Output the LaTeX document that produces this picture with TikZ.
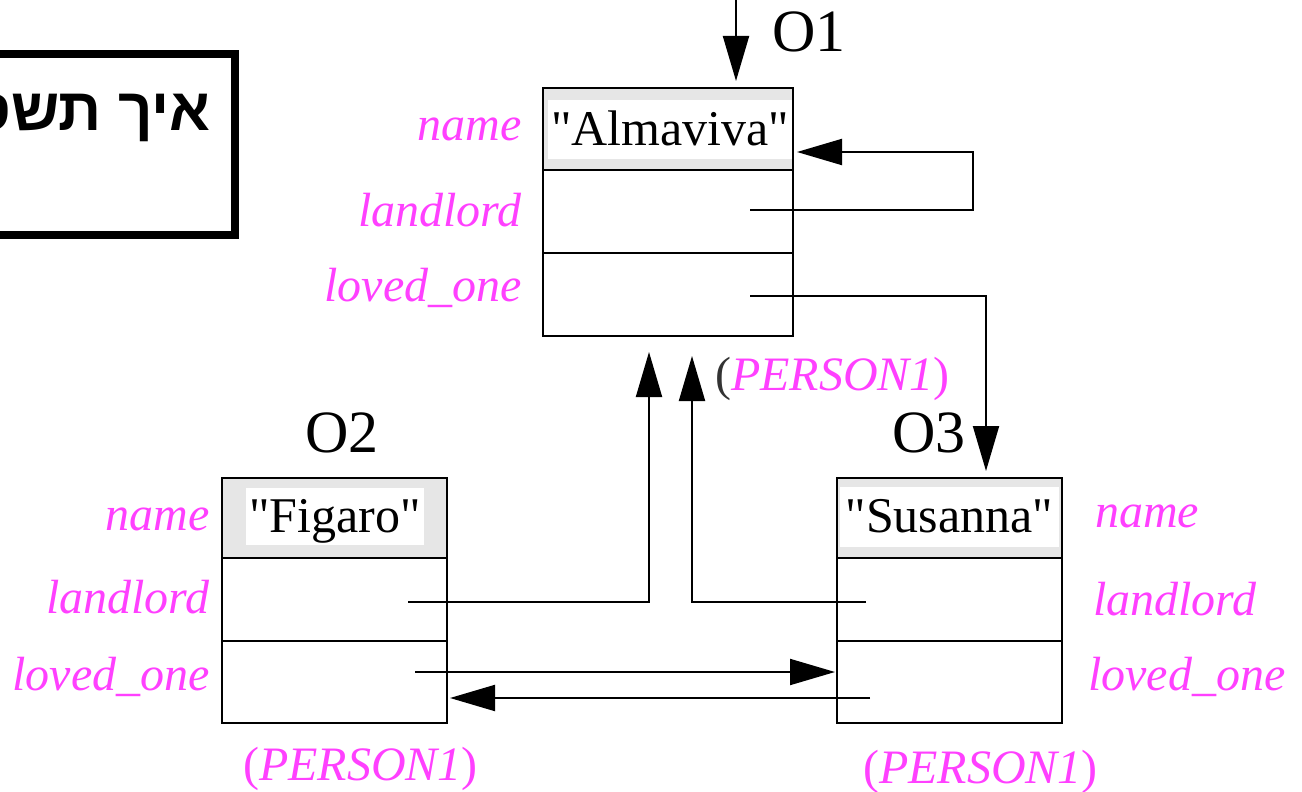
\documentclass[tikz,border=0pt]{standalone}
\usepackage{fontspec}
\setmainfont{Liberation Serif}[Ligatures=TeXOff]
\newfontfamily\hebfont[Script=Hebrew]{Liberation Sans}
\TeXXeTstate=1
\usetikzlibrary{arrows.meta}
\definecolor{lblc}{RGB}{255,64,255}
\definecolor{rowgray}{RGB}{230,230,230}
\begin{document}
\begin{tikzpicture}[x=1pt,y=-1pt,
  rowbox/.style={draw=black, line width=2pt, inner sep=0, outer sep=0},
  lbl/.style={text=lblc, font=\fontsize{48}{54}\selectfont\itshape, inner sep=0},
  val/.style={font=\fontsize{50}{58}\selectfont, inner sep=0},
  oname/.style={font=\fontsize{60}{70}\selectfont, inner sep=0},
  ptr/.style={line width=2pt, -{Triangle[length=45pt,width=26pt]}}]
\useasboundingbox (0,0) rectangle (1302,792);

% Hebrew title box (cut at left, as in the reference)
\draw[line width=8pt] (-30,54) -- (235,54) -- (235,235) -- (-30,235);
\node[anchor=base east, inner sep=0, font=\fontsize{60}{68}\hebfont\bfseries] (heb) at (211,131) {\beginR איך תשס\endR};

% ---------- O1 ----------
\node[rowbox, fill=rowgray, minimum width=250pt, minimum height=82pt] (o1name) at (668,129) {};
\fill[white] (548,100) rectangle (793,159);
\node[rowbox, minimum width=250pt, minimum height=83pt] (o1land) at (668,211.5) {};
\node[rowbox, minimum width=250pt, minimum height=83pt] (o1love) at (668,294.5) {};
\draw[line width=2pt] (543,88) rectangle (793,336);
\node[val, anchor=base] (o1val) at (670,145) {"Almaviva"};
\node[oname, anchor=base west] (o1lab) at (772,52) {O1};
\node[lbl, anchor=base east] (o1n) at (522,140) {name};
\node[lbl, anchor=base east] (o1l) at (522,226) {landlord};
\node[lbl, anchor=base east] (o1o) at (522,301) {loved\_one};
\node[lbl, anchor=base west] (o1p) at (715,390) {\textcolor{black!80}{\upshape(}PERSON1\upshape)};

% ---------- O2 ----------
\node[rowbox, fill=rowgray, minimum width=225pt, minimum height=80pt] (o2name) at (334.5,518) {};
\fill[white] (246,488) rectangle (424,545);
\node[rowbox, minimum width=225pt, minimum height=83pt] (o2land) at (334.5,599.5) {};
\node[rowbox, minimum width=225pt, minimum height=82pt] (o2love) at (334.5,682) {};
\draw[line width=2pt] (222,478) rectangle (447,723);
\node[val, anchor=base] (o2val) at (335,532) {"Figaro"};
\node[oname, anchor=base west] (o2lab) at (305,452) {O2};
\node[lbl, anchor=base east] (o2n) at (210,530) {name};
\node[lbl, anchor=base east] (o2l) at (210,613) {landlord};
\node[lbl, anchor=base east] (o2o) at (210,690) {loved\_one};
\node[lbl, anchor=base west] (o2p) at (243,780) {\upshape(\itshape PERSON1\upshape)};

% ---------- O3 ----------
\node[rowbox, fill=rowgray, minimum width=225pt, minimum height=80pt] (o3name) at (949.5,518) {};
\fill[white] (840,487) rectangle (1059,547);
\node[rowbox, minimum width=225pt, minimum height=83pt] (o3land) at (949.5,599.5) {};
\node[rowbox, minimum width=225pt, minimum height=82pt] (o3love) at (949.5,682) {};
\draw[line width=2pt] (837,478) rectangle (1062,723);
\node[val, anchor=base] (o3val) at (949.5,532) {"Susanna"};
\node[oname, anchor=base west] (o3lab) at (892,452) {O3};
\node[lbl, anchor=base west] (o3n) at (1095,527) {name};
\node[lbl, anchor=base west] (o3l) at (1093,615) {landlord};
\node[lbl, anchor=base west] (o3o) at (1088,690) {loved\_one};
\node[lbl, anchor=base west] (o3p) at (863,783) {\upshape(\itshape PERSON1\upshape)};

% ---------- pointer coordinates ----------
\coordinate (rootin) at (736,-5);
\coordinate (o1in) at (736,81);
\coordinate (o1ls) at (750,210);
\coordinate (o1lt) at (797,152);
\coordinate (o1os) at (750,296);
\coordinate (o3in) at (986,471);
\coordinate (o2ls) at (408,602);
\coordinate (o2lt) at (649,352);
\coordinate (o3ls) at (866,602);
\coordinate (o3lt) at (692,356);
\coordinate (o2os) at (415,672);
\coordinate (o3ot) at (835,672);
\coordinate (o3os) at (870,698);
\coordinate (o2ot) at (450,698);

% ---------- pointers ----------
\draw[ptr] (rootin) -- (o1in);
\draw[ptr] (o1ls) -- (973,210) |- (o1lt);
\draw[ptr] (o1os) -| (o3in);
\draw[ptr] (o2ls) -| (o2lt);
\draw[ptr] (o3ls) -| (o3lt);
\draw[ptr] (o2os) -- (o3ot);
\draw[ptr] (o3os) -- (o2ot);
\end{tikzpicture}
\end{document}
